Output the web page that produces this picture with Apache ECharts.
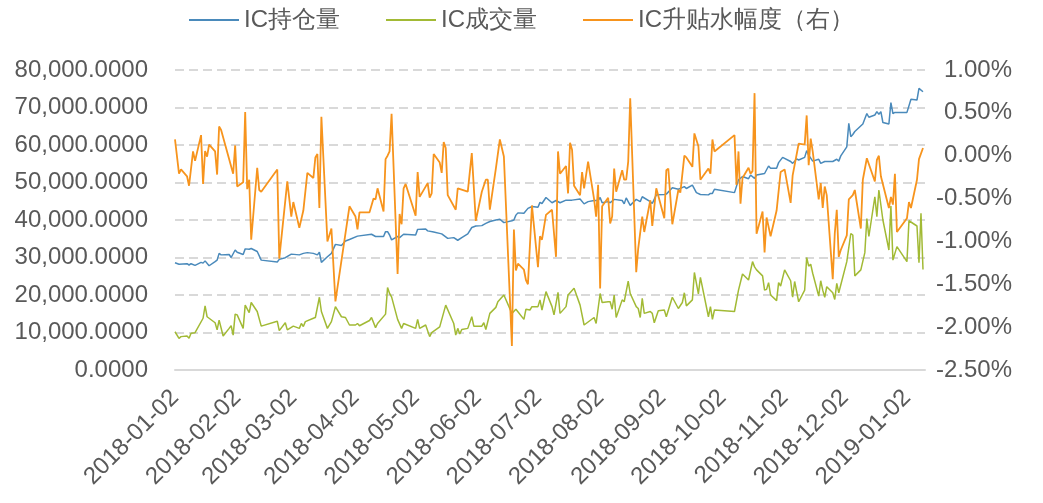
<!DOCTYPE html>
<html>
<head>
<meta charset="utf-8">
<script src="https://cdn.jsdelivr.net/npm/echarts@6/dist/echarts.min.js"></script>
<style>
  html, body { margin: 0; padding: 0; background: #fff; }
  #chart { width: 1043px; height: 503px; }
</style>
</head>
<body>
<div id="chart"></div>
<script>
// exchange holidays (weekdays with no trading)
const holidays = [
    '2018-01-01', '2018-02-15', '2018-02-16', '2018-02-19', '2018-02-20', '2018-02-21',
    '2018-04-05', '2018-04-06', '2018-04-30', '2018-05-01', '2018-06-18', '2018-09-24',
    '2018-10-01', '2018-10-02', '2018-10-03', '2018-10-04', '2018-10-05', '2018-12-31', '2019-01-01',
];
const firstDay = '2018-01-02';
const lastDay = '2019-01-11';

// one value per trading day, null where not read
const openInterest = [
    // Jan
    28600, null, 28200, null, 28350, 28000, 28350, null, 27900, 28700, 28500, 29100, null, 27800, 28900, 29300, 31100, 30700, null, 30800, 30000, null,
    // Feb
    32000, 31400, 30800, 32300, null, 32200, 32400, 31600, null, 29300, 28800, 29500, 29950, null, null,
    // Mar
    30900, null, 30700, null, 31100, null, 31300, 31100, null, 30700, 31400, 28700, 30200, null, 31100, null, 33500, 33200, null, 34400, null, 34800,
    // Apr
    null, 35700, null, null, 36200, null, 35600, null, 35600, 36900, 36900, 36000, 34700, 35600, 35300, null, 36200, null,
    // May
    36000, 37500, null, 37600, 37100, null, null, 36800, null, 36300, null, null, 35100, 35300, null, 34600, null, 35300, 36300, null, 38000, null,
    // Jun
    38400, 38500, null, 39100, null, 39600, 40000, null, 40200, null, 39300, 39800, 40000, 41300, 41900, 41800, null, 43100, null, 43600,
    // Jul
    43400, 44700, 44400, null, 46000, 44600, null, 45200, null, 44600, 45300, null, null, 45300, null, 45600, null, 44300, null, 44900, 45200, null,
    // Aug
    45200, 46000, 44600, 44900, 44600, null, 45500, null, 45200, 44300, 45900, null, 43900, 45500, null, 44900, 46200, null, 44900, 44400, null, 46700, null,
    // Sep
    46800, 46900, null, null, 48600, 48200, null, null, 48900, 48400, 49300, null, 47300, null, 46800, 46700, 47100, 47100, 48200,
    // Oct
    47300, null, 50700, null, 51600, 51000, 52000, null, 51100, 52000, null, 52400, null, 54400, 53800, 53800, 55300, null,
    // Nov
    56700, null, 55600, 55100, null, 56300, 56000, 56700, 58500, 57300, null, 55700, 56200, 55100, null, 55600, null, 55600, null, 56200, 55700, 57100,
    // Dec
    59500, 65800, 62200, 62800, 63600, null, 65600, null, 68400, 67400, 68000, 68900, 68200, 68900, 66000, 65600, 71300, 68400, 68700, 68700,
    // Jan 2019
    68700, null, 72200, 72000, 75100, null, 74200, null,
];

const volume = [
    // Jan
    10200, null, 8450, 8900, 9060, 8450, 9800, null, 9950, null, 13800, 17100, 14200, null, 12600, 10700, 13300, null, 9060, 11100, 11800, 9300,
    // Feb
    14900, 14700, 11100, 17300, null, 15300, 18000, 15600, null, 11700, 13000, 10500, 12600, 10700, null,
    // Mar
    null, 11700, 11100, 12400, 11600, 12900, null, 13800, 14000, null, 19400, 15600, 11100, null, 12900, null, 16900, 14200, null, 14000, null, 12000,
    // Apr
    12000, 12400, 11800, 13200, 14000, null, 11300, 12400, null, 14900, 22000, 20400, 19500, 13500, null, 11100, 12400, null,
    // May
    11100, 13500, 11100, 12000, null, 8900, 9960, null, 11500, null, null, 17300, null, 12400, 9300, 11100, 9600, 10800, 11100, null, 14200, 11700,
    // Jun
    null, 11700, 12600, 10800, null, 15100, 16700, 18200, null, null, 20000, 15100, null, 16200, null, 13500, 16200, null, 16000, 16900,
    // Jul
    16900, 18700, 16000, null, 20900, 16900, 14700, null, 20700, 15100, 16900, 20000, null, null, 21800, 17300, null, 12000, null, null, 14000, 12400,
    // Aug
    null, 20400, 18000, 18200, 18200, 16200, 20000, 14000, 18700, 18200, null, 23700, 20400, 16900, 16400, 14000, 19100, 15100, 15600, 15100, 12600, null, 15800,
    // Sep
    16000, 14200, null, null, 19400, 16400, null, 18000, 20600, 17100, 18700, 26000, null, 20300, 24700, 14200, 16900, 13500, 16000,
    // Oct
    15600, null, 21300, null, 25600, 24000, null, 28900, 27500, 26700, 25100, 21300, 21500, 23300, 20000, 18500, 23300, 22400,
    // Nov
    null, 26700, 23800, 19400, 23600, 20900, 18200, 21300, 30000, 27700, 28200, 25800, 19700, 23800, 21300, 19400, 22200, 20600, 18800, 23100, 20600, null,
    // Dec
    28900, null, 36400, 36000, 25100, 26700, null, 31300, 40400, 35600, 46200, 40900, 48000, null, 40000, 32000, 43700, 29300, null, 32900,
    // Jan 2019
    28900, 39800, null, 38400, 28600, 41800, 26800, null,
];

// basis, percent
const basisPct = [
    // Jan
    0.19, null, -0.21, -0.16, -0.24, -0.35, null, 0.05, -0.06, 0.24, -0.33, 0.055, -0.01, 0.13, 0.05, -0.22, 0.34, 0.30, null, null, null, -0.21,
    // Feb
    0.12, -0.36, -0.31, 0.51, -0.39, -0.28, -0.98, -0.14, -0.40, -0.42, -0.16, -1.20, null, -0.30, null,
    // Mar
    -0.71, -0.54, -0.84, null, -0.64, null, -0.20, -0.26, -0.02, 0.02, -0.61, 0.455, -1.00, null, -0.85, null, -1.70, null, null, null, null, -0.59,
    // Apr
    -0.71, -0.86, -0.66, -0.66, null, -0.50, -0.51, -0.38, -0.65, -0.04, 0.00, 0.05, 0.49, -1.38, -0.68, -0.80, -0.38, -0.33,
    // May
    -0.70, -0.19, -0.48, null, -0.32, -0.49, -0.44, 0.02, -0.08, -0.20, 0.16, 0.09, -0.46, null, -0.63, -0.38, null, null, -0.42, null, 0.03, null,
    // Jun
    -0.76, -0.42, null, -0.28, -0.28, -0.63, -0.15, null, 0.19, null, -0.01, -2.22, -0.86, -1.34, -1.26, -1.33, -1.45, -1.50, null, -0.58,
    // Jul
    -1.30, -0.94, -0.98, null, -0.69, -0.63, null, -1.18, 0.05, -0.21, -0.12, -0.44, 0.15, 0.07, -0.35, -0.46, -0.19, -0.38, null, -0.07, -0.51, -0.71,
    // Aug
    -0.34, -1.55, -0.59, -0.49, -0.79, -0.71, -0.15, -0.42, -0.17, -0.28, -0.28, -0.07, 0.67, -1.36, -1.08, null, -0.71, -0.89, -0.52, -0.82, null, -0.38, null,
    // Sep
    -0.73, -0.17, -0.15, null, -0.80, -0.40, -0.43, null, 0.00, -0.02, -0.13, 0.26, null, 0.11, -0.28, -0.15, -0.21, 0.19, 0.05,
    // Oct
    0.24, -0.34, 0.05, -0.56, -0.26, -0.14, -0.21, -0.18, 0.73, -0.91, -0.65, -1.13, -0.72, null, -0.94, -0.64, null, -0.19,
    // Nov
    null, -0.16, -0.55, -0.23, null, null, 0.14, 0.13, 0.47, -0.11, 0.20, 0.05, -0.51, -0.32, -0.61, -0.36, -0.46, -1.44, -0.91, -0.63, -1.18, -1.10,
    // Dec
    -0.93, -0.51, null, -0.46, -0.40, -0.85, -0.28, null, -0.03, null, -0.30, -0.05, 0.00, -0.24, null, -0.61, -0.48, -0.57, -0.21, -0.89,
    // Jan 2019
    -0.73, -0.54, -0.61, -0.28, -0.04, null, 0.09, null,
];

const seriesNames = ['IC持仓量', 'IC成交量', 'IC升贴水幅度（右）'];
const seriesColors = ['#4a8abb', '#a2ba35', '#f7941d'];

// calendar days on the axis, trading days among them
const axisDays = [];
for (let t = Date.parse(firstDay); t <= Date.parse(lastDay); t += 86400000) {
    axisDays.push(new Date(t).toISOString().slice(0, 10));
}
const tradeDates = axisDays.filter((d) => {
    const wd = new Date(d + 'T00:00:00Z').getUTCDay();
    return wd !== 0 && wd !== 6 && holidays.indexOf(d) < 0;
});
const tradeIndex = {};
tradeDates.forEach((d, i) => { tradeIndex[d] = i; });

function onAxis(values) {
    return axisDays.map((d) => {
        const i = tradeIndex[d];
        return i === undefined || values[i] === undefined ? null : values[i];
    });
}

const textColor = '#595959';
const fontFamily = '"Liberation Sans", Arial, sans-serif';

const chart = echarts.init(document.getElementById('chart'));
chart.setOption({
    animation: false,
    textStyle: { fontFamily },
    legend: {
        top: 3,
        left: 'center',
        icon: 'rect',
        itemWidth: 50,
        itemHeight: 2,
        itemGap: 46,
        textStyle: { color: textColor, fontSize: 24, fontFamily },
        data: seriesNames,
    },
    grid: {
        left: 175, right: 118, top: 70, bottom: 133,
    },
    xAxis: {
        type: 'category',
        data: axisDays,
        boundaryGap: false,
        axisTick: { show: false },
        axisLine: { lineStyle: { color: '#d9d9d9', width: 2 } },
        axisLabel: {
            color: textColor,
            fontSize: 24,
            rotate: 45,
            margin: 24,
            interval: (index, value) => value.slice(8) === '02',
        },
        splitLine: { show: false },
    },
    yAxis: [
        {
            type: 'value',
            min: 0,
            max: 80000,
            interval: 10000,
            axisLine: { show: false },
            axisTick: { show: false },
            axisLabel: {
                color: textColor,
                fontSize: 24,
                margin: 27,
                formatter: (v) => echarts.format.addCommas(v.toFixed(4)),
            },
            splitLine: { lineStyle: { color: '#d9d9d9', width: 2, type: [9, 5] } },
        },
        {
            type: 'value',
            position: 'right',
            min: -2.5,
            max: 1,
            interval: 0.5,
            axisLine: { show: false },
            axisTick: { show: false },
            axisLabel: {
                color: textColor,
                fontSize: 24,
                align: 'right',
                margin: 87,
                formatter: (v) => v.toFixed(2) + '%',
            },
            splitLine: { show: false },
        },
    ],
    series: [
        {
            name: seriesNames[0],
            type: 'line',
            data: onAxis(openInterest),
            yAxisIndex: 0,
            connectNulls: true,
            showSymbol: false,
            color: seriesColors[0],
            lineStyle: { width: 1.5 },
        },
        {
            name: seriesNames[1],
            type: 'line',
            data: onAxis(volume),
            yAxisIndex: 0,
            connectNulls: true,
            showSymbol: false,
            color: seriesColors[1],
            lineStyle: { width: 1.5 },
        },
        {
            name: seriesNames[2],
            type: 'line',
            data: onAxis(basisPct),
            yAxisIndex: 1,
            connectNulls: true,
            showSymbol: false,
            color: seriesColors[2],
            lineStyle: { width: 1.8 },
        },
    ],
});
</script>
</body>
</html>
